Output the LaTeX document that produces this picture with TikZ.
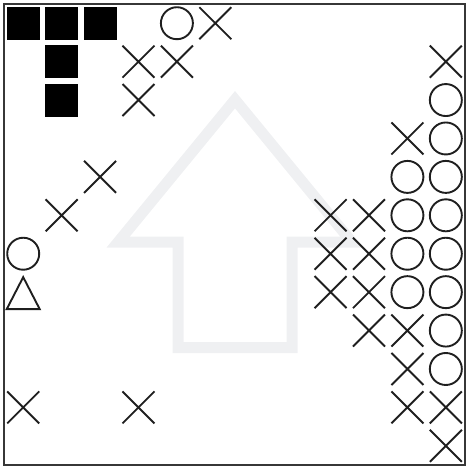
\documentclass[tikz,border=0pt]{standalone}
\definecolor{arrowgray}{RGB}{239,240,242}
\definecolor{framegray}{RGB}{55,55,55}
\begin{document}
\begin{tikzpicture}[x=1pt,y=-1pt,
  symline/.style={draw=black!88, line width=1.9pt},
  blockfill/.style={fill=black},
  bigarrow/.style={draw=arrowgray, line width=11pt, line join=miter},
  frameline/.style={draw=framegray, line width=2pt}]
\useasboundingbox (0,0) rectangle (468,468);
% background arrow
\draw[bigarrow] (235,99.7) -- (118.2,242) -- (178,242) -- (178,347.5)
  -- (292,347.5) -- (292,242) -- (351.8,242) -- cycle;
\begin{scope}[shift={(4,4)}, x=38.42pt, y=-38.42pt]
  % black squares
  \foreach \c/\r in {0/0,1/0,2/0,1/1,1/2}
    \fill[blockfill] (\c+.5,\r+.5) ++(-16.5pt,-16.5pt) rectangle ++(33pt,33pt);
  % circles
  \foreach \c/\r in {4/0,11/2,11/3,10/4,11/4,10/5,11/5,0/6,10/6,11/6,10/7,11/7,11/8,11/9}
    \draw[symline] (\c+.5,\r+.5) circle[radius=16pt];
  % crosses
  \foreach \c/\r in {5/0,3/1,4/1,11/1,3/2,10/3,2/4,1/5,8/5,9/5,8/6,9/6,8/7,9/7,9/8,10/8,10/9,0/10,3/10,10/10,11/10,11/11}
    \draw[symline] (\c+.5,\r+.5) ++(-16pt,-16pt) -- ++(32pt,32pt) ++(-32pt,0pt) -- ++(32pt,-32pt);
  % triangle
  \draw[symline] (0.5,7.5) ++(0pt,15pt) -- ++(-16.5pt,-32pt) -- ++(33pt,0pt) -- cycle;
\end{scope}
% frame
\draw[frameline] (4,4) rectangle (465,465);
\end{tikzpicture}
\end{document}
